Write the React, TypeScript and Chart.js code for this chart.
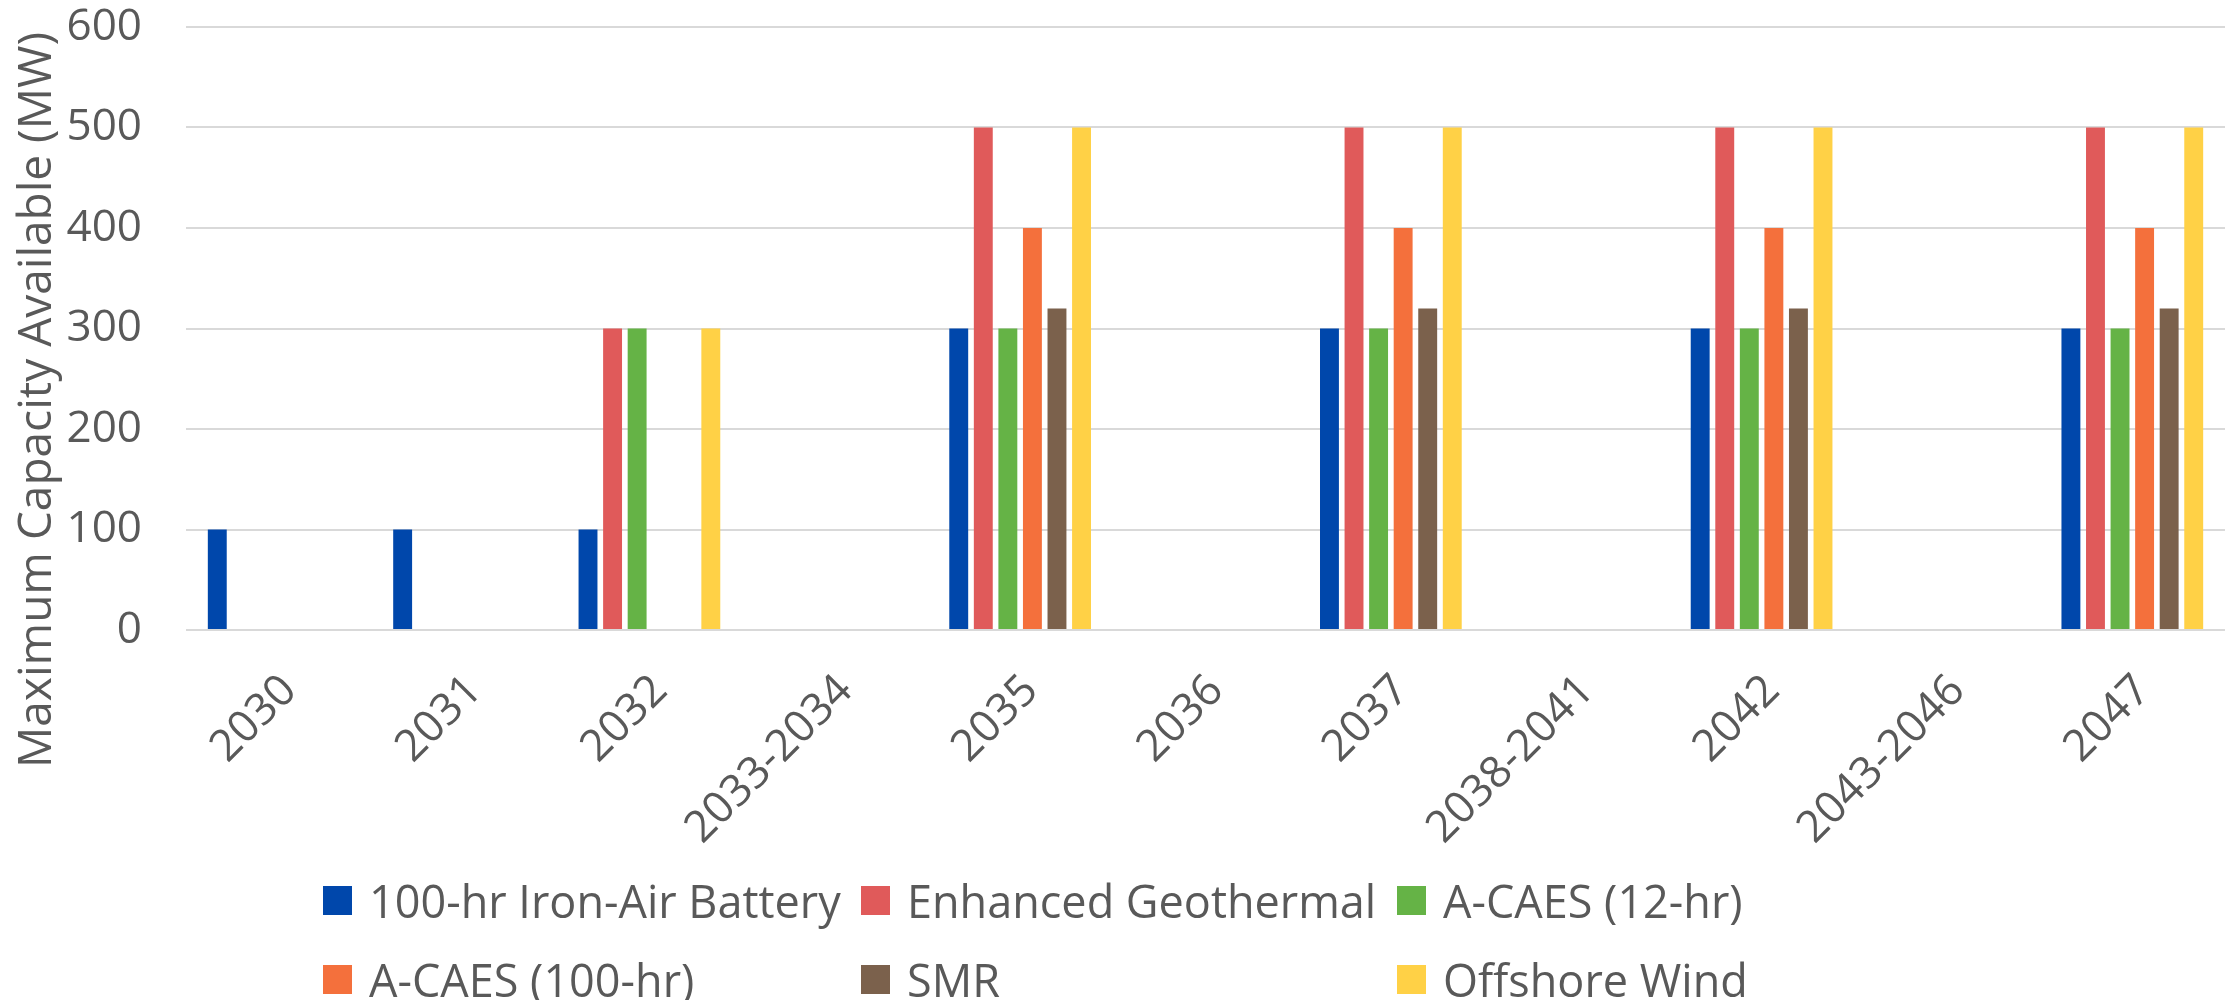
import React, { useEffect, useRef } from "react";
import { Chart, registerables } from "chart.js";

Chart.register(...registerables);

const categories = ["2030", "2031", "2032", "2033-2034", "2035", "2036", "2037", "2038-2041", "2042", "2043-2046", "2047"];
const ironAir = [100, 100, 100, 0, 300, 0, 300, 0, 300, 0, 300];
const geothermal = [0, 0, 300, 0, 500, 0, 500, 0, 500, 0, 500];
const acaes12 = [0, 0, 300, 0, 300, 0, 300, 0, 300, 0, 300];
const acaes100 = [0, 0, 0, 0, 400, 0, 400, 0, 400, 0, 400];
const smr = [0, 0, 0, 0, 320, 0, 320, 0, 320, 0, 320];
const offshore = [0, 0, 300, 0, 500, 0, 500, 0, 500, 0, 500];
const seriesNames = ["100-hr Iron-Air Battery", "Enhanced Geothermal", "A-CAES (12-hr)", "A-CAES (100-hr)", "SMR", "Offshore Wind"];
const seriesValues = [ironAir, geothermal, acaes12, acaes100, smr, offshore];
const seriesColors = ["#0047ab", "#e05a5a", "#65b346", "#f4703c", "#7b614c", "#ffd146"];
const yMin = 0;
const yMax = 600;
const yStep = 100;
const yTitle = "Maximum Capacity Available (MW)";

const FONT = '"Open Sans", "Noto Sans", sans-serif';
const TEXT = "#595959";

const yTitlePlugin = {
  id: "yTitleCustom",
  afterDraw(chart: any) {
    const ctx = chart.ctx;
    ctx.save();
    ctx.translate(38, 400);
    ctx.rotate(-Math.PI / 2);
    ctx.font = `46px ${FONT}`;
    ctx.fillStyle = TEXT;
    ctx.textAlign = "center";
    ctx.textBaseline = "middle";
    ctx.fillText(yTitle, 0, 0);
    ctx.restore();
  },
};

const legendCols = [323, 861, 1397];
const legendRows = [900, 979];

export default function App() {
  const ref = useRef<HTMLCanvasElement | null>(null);
  useEffect(() => {
    if (!ref.current) return;
    const chart = new Chart(ref.current, {
      type: "bar",
      data: {
        labels: categories,
        datasets: seriesNames.map((name, i) => ({
          label: name,
          data: seriesValues[i],
          backgroundColor: seriesColors[i],
          borderWidth: 0,
          categoryPercentage: 0.795,
          barPercentage: 0.77,
        })),
      },
      options: {
        animation: false,
        responsive: false,
        devicePixelRatio: 1,
        layout: { padding: { top: 27, right: 9, left: 0, bottom: 0 } },
        plugins: {
          legend: { display: false },
          tooltip: { enabled: false },
          title: { display: false },
        },
        scales: {
          x: {
            grid: { display: false },
            border: { display: false },
            ticks: {
              color: TEXT,
              font: { size: 44, family: FONT },
              minRotation: 45,
              maxRotation: 45,
              autoSkip: false,
              padding: 27,
              labelOffset: 11,
            },
            afterFit: (s: any) => {
              s.height = 370;
              s.paddingLeft = 0;
              s.paddingRight = 0;
            },
          },
          y: {
            min: yMin,
            max: yMax,
            grid: { color: "#d9d9d9", lineWidth: 2, drawTicks: false },
            border: { display: false },
            ticks: {
              stepSize: yStep,
              color: TEXT,
              font: { size: 44, family: FONT },
              padding: 44,
            },
            afterFit: (s: any) => {
              s.width = 186;
              s.paddingTop = 0;
              s.paddingBottom = 0;
            },
          },
        },
      },
      plugins: [yTitlePlugin],
    });
    return () => chart.destroy();
  }, []);

  return (
    <div style={{ position: "absolute", left: 0, top: 0, width: 2234, height: 1000, background: "#fff", overflow: "hidden" }}>
      <canvas ref={ref} width={2234} height={1000} style={{ width: 2234, height: 1000, display: "block" }} />
      {seriesNames.map((name, i) => {
        const col = i % 3;
        const row = Math.floor(i / 3);
        return (
          <div
            key={name}
            style={{
              position: "absolute",
              left: legendCols[col],
              top: legendRows[row] - 30,
              height: 60,
              display: "flex",
              alignItems: "center",
              fontFamily: FONT,
              fontSize: 45,
              color: TEXT,
              whiteSpace: "nowrap",
            }}
          >
            <span style={{ display: "inline-block", width: 29, height: 29, background: seriesColors[i], marginRight: 17 }} />
            <span>{name}</span>
          </div>
        );
      })}
    </div>
  );
}
